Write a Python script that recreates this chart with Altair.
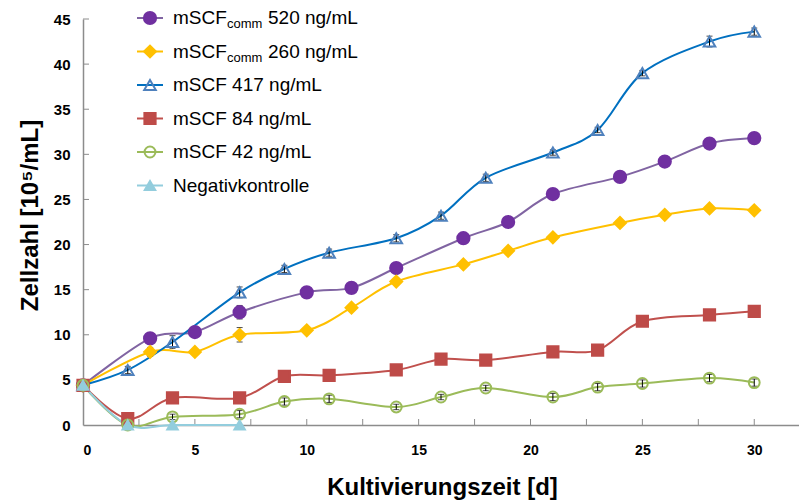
import altair as alt
import pandas as pd

FONT = "Liberation Sans"

# ---- data ----
series = ["c520", "c260", "s417", "s84", "s42", "neg"]

x_c520 = [0, 3, 5, 7, 10, 12, 14, 17, 19, 21, 24, 26, 28, 30]
y_c520 = [4.4, 9.6, 10.3, 12.5, 14.7, 15.2, 17.4, 20.7, 22.5, 25.6, 27.5, 29.2, 31.2, 31.8]
e_c520 = [0.2, 0.3, 0.2, 0.75, 0.2, 0.2, 0.2, 0.2, 0.2, 0.2, 0.2, 0.2, 0.2, 0.2]

x_c260 = [0, 3, 5, 7, 10, 12, 14, 17, 19, 21, 24, 26, 28, 30]
y_c260 = [4.4, 8.1, 8.1, 10.0, 10.5, 13.0, 15.9, 17.8, 19.3, 20.8, 22.4, 23.3, 24.0, 23.8]
e_c260 = [0.2, 0.5, 0.2, 0.8, 0.2, 0.2, 0.3, 0.2, 0.3, 0.2, 0.3, 0.3, 0.2, 0.2]

x_s417 = [0, 2, 4, 7, 9, 11, 14, 16, 18, 21, 23, 25, 28, 30]
y_s417 = [4.4, 6.1, 9.2, 14.7, 17.3, 19.1, 20.7, 23.2, 27.4, 30.2, 32.7, 39.0, 42.5, 43.6]
e_s417 = [0.2, 0.4, 0.7, 0.6, 0.4, 0.4, 0.4, 0.4, 0.4, 0.3, 0.3, 0.3, 0.6, 0.4]

x_s84 = [0, 2, 4, 7, 9, 11, 14, 16, 18, 21, 23, 25, 28, 30]
y_s84 = [4.4, 0.7, 3.0, 3.0, 5.4, 5.5, 6.1, 7.3, 7.2, 8.1, 8.3, 11.5, 12.2, 12.6]
e_s84 = [0.2, 0.2, 0.2, 0.2, 0.2, 0.2, 0.2, 0.2, 0.2, 0.2, 0.2, 0.2, 0.2, 0.2]

x_s42 = [0, 2, 4, 7, 9, 11, 14, 16, 18, 21, 23, 25, 28, 30]
y_s42 = [4.4, 0.0, 0.9, 1.2, 2.6, 2.9, 2.0, 3.1, 4.1, 3.1, 4.2, 4.6, 5.2, 4.7]
e_s42 = [0.2, 0.1, 0.3, 0.4, 0.4, 0.4, 0.3, 0.3, 0.3, 0.4, 0.4, 0.4, 0.4, 0.4]

x_neg = [0, 2, 4, 7]
y_neg = [4.4, 0.0, 0.0, 0.0]
e_neg = [0.0, 0.0, 0.0, 0.0]

legend_main = ["mSCF", "mSCF", "mSCF 417 ng/mL", "mSCF 84 ng/mL", "mSCF 42 ng/mL", "Negativkontrolle"]
legend_sub = ["comm", "comm", "", "", "", ""]
legend_rest = ["520 ng/mL", "260 ng/mL", "", "", "", ""]

x_tick_labels = [0, 5, 10, 15, 20, 25, 30]
x_minor_ticks = [2.5, 5, 7.5, 10, 12.5, 15, 17.5, 20, 22.5, 25, 27.5, 30]
y_tick_labels = [0, 5, 10, 15, 20, 25, 30, 35, 40, 45]
y_minor_ticks = [5, 10, 15, 20, 25, 30, 35, 40, 45]

# ---- styles ----
line_colors = ["#8064A2", "#FFC000", "#0070C0", "#C0504D", "#9BBB59", "#93CDDD"]
stroke_colors = ["#7030A0", "#FFC000", "#4F81BD", "#BE4B48", "#9BBB59", "#93CDDD"]
fill_colors = ["#7030A0", "#FFC000", "transparent", "#BE4B48", "transparent", "#93CDDD"]
shapes = ["circle", "diamond", "triangle-up", "square", "circle", "triangle-up"]
sizes = [150, 110, 110, 170, 130, 150]

rows = []
for s, xs, ys, es in [
    ("c520", x_c520, y_c520, e_c520),
    ("c260", x_c260, y_c260, e_c260),
    ("s417", x_s417, y_s417, e_s417),
    ("s84", x_s84, y_s84, e_s84),
    ("s42", x_s42, y_s42, e_s42),
    ("neg", x_neg, y_neg, e_neg),
]:
    for xv, yv, ev in zip(xs, ys, es):
        rows.append({"s": s, "x": xv, "y": yv, "lo": yv - ev, "hi": yv + ev, "e": ev})
df = pd.DataFrame(rows)

leg = pd.DataFrame({
    "s": series,
    "row": list(range(len(series))),
    "main": legend_main,
    "sub": legend_sub,
    "rest": legend_rest,
})

X = alt.X("x:Q", scale=alt.Scale(domain=[0, 32], nice=False, zero=False),
          axis=alt.Axis(values=x_tick_labels, title="Kultivierungszeit [d]",
                        labelPadding=18, labelFontSize=14,
                        titleBaseline="alphabetic", titleY=69,
                        titleX=359, titleFontSize=24))
Y = alt.Y("y:Q", scale=alt.Scale(domain=[0, 45], nice=False),
          axis=alt.Axis(values=y_tick_labels, title="Zellzahl [10⁵/mL]",
                        labelPadding=13, labelFontSize=15,
                        titleBaseline="alphabetic", titleX=-46,
                        titleY=196, titleFontSize=24))

color = alt.Color("s:N", scale=alt.Scale(domain=series, range=line_colors), legend=None)
stroke = alt.Stroke("s:N", scale=alt.Scale(domain=series, range=stroke_colors), legend=None)
fill = alt.Fill("s:N", scale=alt.Scale(domain=series, range=fill_colors), legend=None)
shape = alt.Shape("s:N", scale=alt.Scale(domain=series, range=shapes), legend=None)
size = alt.Size("s:N", scale=alt.Scale(domain=series, range=sizes), legend=None)

base = alt.Chart(df)

lines = base.mark_line(interpolate="cardinal", strokeWidth=2).encode(x=X, y=Y, color=color)
points = base.mark_point(filled=False, opacity=1, strokeWidth=2).encode(
    x=X, y=Y, shape=shape, fill=fill, stroke=stroke, size=size)
err = base.transform_filter("datum.e > 0")
err_rule = err.mark_rule(color="black", strokeWidth=1).encode(
    x=X, y=alt.Y("lo:Q"), y2="hi:Q")
cap_lo = err.mark_tick(color="black", orient="horizontal", size=6, thickness=1).encode(
    x=X, y=alt.Y("lo:Q"))
cap_hi = err.mark_tick(color="black", orient="horizontal", size=6, thickness=1).encode(
    x=X, y=alt.Y("hi:Q"))

xt = alt.Chart(pd.DataFrame({"x": x_minor_ticks})).mark_rule(
    color="#8C8C8C", strokeWidth=1).encode(x=X, y=alt.value(406), y2=alt.value(400))
yt = alt.Chart(pd.DataFrame({"y": y_minor_ticks})).mark_rule(
    color="#8C8C8C", strokeWidth=1).encode(y=Y, x=alt.value(0), x2=alt.value(6))

lbase = alt.Chart(leg).transform_calculate(ly="-1 + 33.5 * datum.row")
LY = alt.Y("ly:Q", scale=None)
leg_line = lbase.mark_rule(strokeWidth=2).encode(
    x=alt.value(54), x2=alt.value(80), y=LY, color=color)
leg_pt = lbase.mark_point(filled=False, opacity=1, strokeWidth=2).encode(
    x=alt.value(67), y=LY, shape=shape, fill=fill, stroke=stroke, size=size)
leg_main = lbase.mark_text(align="left", baseline="middle", font=FONT, fontSize=19,
                           color="black").encode(x=alt.value(90), y=LY, text="main:N")
leg_sub = lbase.mark_text(align="left", baseline="middle", font=FONT, fontSize=13,
                          color="black", dy=6).encode(x=alt.value(144), y=LY, text="sub:N")
leg_rest = lbase.mark_text(align="left", baseline="middle", font=FONT, fontSize=19,
                           color="black").encode(x=alt.value(185), y=LY, text="rest:N")

chart = alt.layer(
    xt, yt, lines, err_rule, cap_lo, cap_hi, points,
    leg_line, leg_pt, leg_main, leg_sub, leg_rest
).properties(
    width=716, height=406,
    autosize=alt.AutoSizeParams(type="none"),
    padding={"left": 83, "top": 19, "right": 0, "bottom": 76},
).configure_view(stroke=None).configure_axis(
    grid=False, ticks=False, tickSize=0,
    domainColor="#8C8C8C", domainWidth=1.5,
    labelFont=FONT, labelFontWeight="bold", labelColor="black",
    titleFont=FONT, titleFontWeight="bold", titleColor="black",
)

chart.save("out.html", embed_options={"renderer": "svg", "actions": False})
